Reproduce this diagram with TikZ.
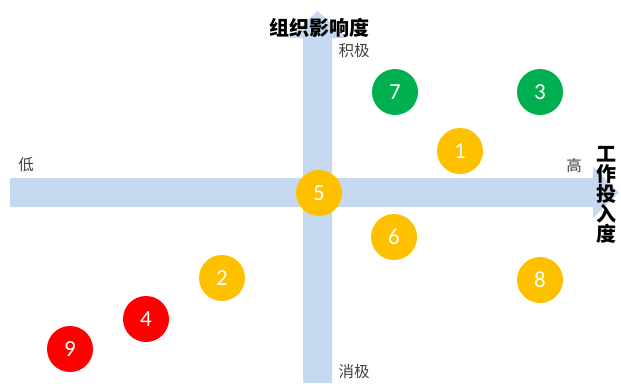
\documentclass[tikz,border=0pt]{standalone}
\usepackage{fontspec}
\setmainfont{Carlito}
\newfontfamily\cjk{Noto Sans CJK SC}
\definecolor{axisblue}{RGB}{198,217,240}
\definecolor{cyellow}{RGB}{255,192,0}
\definecolor{cgreen}{RGB}{0,176,80}
\definecolor{cred}{RGB}{255,0,0}
\tikzset{
  dot/.style={circle, minimum size=46pt, inner sep=0pt, text=white, font=\fontsize{23}{23}\selectfont},
  ydot/.style={dot, fill=cyellow},
  gdot/.style={dot, fill=cgreen},
  rdot/.style={dot, fill=cred},
  axlabel/.style={font=\cjk\fontsize{15.5}{15.5}\selectfont, text=black!75, inner sep=0pt},
  title/.style={font=\cjk\bfseries\fontsize{20}{20}\selectfont, inner sep=0pt}
}
\begin{document}
\begin{tikzpicture}[x=1pt,y=-1pt]
\useasboundingbox (0,0) rectangle (621,383);
% horizontal arrow
\fill[axisblue] (10,178) -- (593,178) -- (593,167) -- (619,192.5) -- (593,218) -- (593,207) -- (10,207) -- cycle;
% vertical arrow
\fill[axisblue] (303,383) -- (303,38) -- (289,38) -- (317.5,11) -- (346,38) -- (332,38) -- (332,383) -- cycle;
% labels
\node[title] (ty) at (319,28) {组织影响度};
\node[axlabel] (pos) at (354,51) {积极};
\node[axlabel] (neg) at (354,372) {消极};
\node[axlabel] (low) at (26,165) {低};
\node[axlabel] (high) at (574,166) {高};
\node[title, align=center] (tx) at (606,195) {\fontsize{20}{24.5}\selectfont 工\\作\\投\\入\\度};
% circles
\node[gdot] (n7) at (395,92) {7};
\node[gdot] (n3) at (540,92) {3};
\node[ydot] (n1) at (460,151) {1};
\node[ydot] (n5) at (319,193) {5};
\node[ydot] (n6) at (394,237) {6};
\node[ydot] (n2) at (222,278) {2};
\node[ydot] (n8) at (540,280) {8};
\node[rdot] (n4) at (146,319) {4};
\node[rdot] (n9) at (70,349) {9};
\end{tikzpicture}
\end{document}
